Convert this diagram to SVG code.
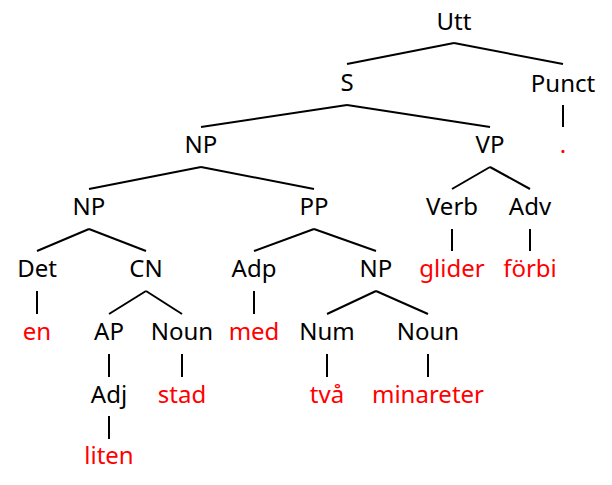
<svg xmlns="http://www.w3.org/2000/svg" width="612" height="485" viewBox="0 0 612 485">
<style>
text{font-family:"Noto Sans","DejaVu Sans",sans-serif;font-size:24px;text-anchor:middle;fill:#000}
text.w{fill:#ff0000}
.e line{stroke:#000;stroke-width:2;stroke-linecap:butt}
</style>
<rect width="612" height="485" fill="#fff"/>
<g id="connectors" class="e">
<line x1="454" y1="43" x2="347" y2="64"/>
<line x1="454" y1="43" x2="563" y2="64"/>
<line x1="563" y1="105" x2="563" y2="127"/>
<line x1="347" y1="105" x2="201" y2="127"/>
<line x1="347" y1="105" x2="490" y2="127"/>
<line x1="201" y1="167" x2="89" y2="189"/>
<line x1="201" y1="167" x2="314" y2="189"/>
<line x1="490" y1="167" x2="452" y2="189"/>
<line x1="490" y1="167" x2="530" y2="189"/>
<line x1="89" y1="229" x2="37" y2="251"/>
<line x1="89" y1="229" x2="146" y2="251"/>
<line x1="314" y1="229" x2="254" y2="251"/>
<line x1="314" y1="229" x2="376" y2="251"/>
<line x1="452" y1="229" x2="452" y2="251"/>
<line x1="530" y1="229" x2="530" y2="251"/>
<line x1="37" y1="291" x2="37" y2="314"/>
<line x1="146" y1="291" x2="109" y2="314"/>
<line x1="146" y1="291" x2="182" y2="314"/>
<line x1="254" y1="291" x2="254" y2="314"/>
<line x1="376" y1="291" x2="327" y2="314"/>
<line x1="376" y1="291" x2="428" y2="314"/>
<line x1="109" y1="354" x2="109" y2="377"/>
<line x1="182" y1="354" x2="182" y2="377"/>
<line x1="327" y1="354" x2="327" y2="377"/>
<line x1="428" y1="354" x2="428" y2="377"/>
<line x1="109" y1="416" x2="109" y2="439"/>
</g>
<g id="n-utt"><text x="454" y="30">Utt</text></g>
<g id="n-s"><text x="347" y="91">S</text></g>
<g id="n-punct"><text x="563" y="92">Punct</text></g>
<g id="n-dot"><text class="w" x="563" y="153">.</text></g>
<g id="n-np1"><text x="201" y="153">NP</text></g>
<g id="n-vp"><text x="490" y="153">VP</text></g>
<g id="n-np2"><text x="89" y="215">NP</text></g>
<g id="n-pp"><text x="314" y="215">PP</text></g>
<g id="n-verb"><text x="452" y="215">Verb</text></g>
<g id="n-adv"><text x="530" y="215">Adv</text></g>
<g id="n-det"><text x="37" y="277">Det</text></g>
<g id="n-cn"><text x="146" y="277">CN</text></g>
<g id="n-adp"><text x="254" y="277">Adp</text></g>
<g id="n-np3"><text x="376" y="277">NP</text></g>
<g id="n-glider"><text class="w" x="452" y="277">glider</text></g>
<g id="n-forbi"><text class="w" x="530" y="277">förbi</text></g>
<g id="n-en"><text class="w" x="37" y="340">en</text></g>
<g id="n-ap"><text x="109" y="340">AP</text></g>
<g id="n-noun1"><text x="182" y="340">Noun</text></g>
<g id="n-med"><text class="w" x="254" y="340">med</text></g>
<g id="n-num"><text x="327" y="340">Num</text></g>
<g id="n-noun2"><text x="428" y="340">Noun</text></g>
<g id="n-adj"><text x="109" y="403">Adj</text></g>
<g id="n-stad"><text class="w" x="182" y="403">stad</text></g>
<g id="n-tva"><text class="w" x="327" y="403">två</text></g>
<g id="n-minareter"><text class="w" x="428" y="403">minareter</text></g>
<g id="n-liten"><text class="w" x="109" y="464">liten</text></g>
</svg>
